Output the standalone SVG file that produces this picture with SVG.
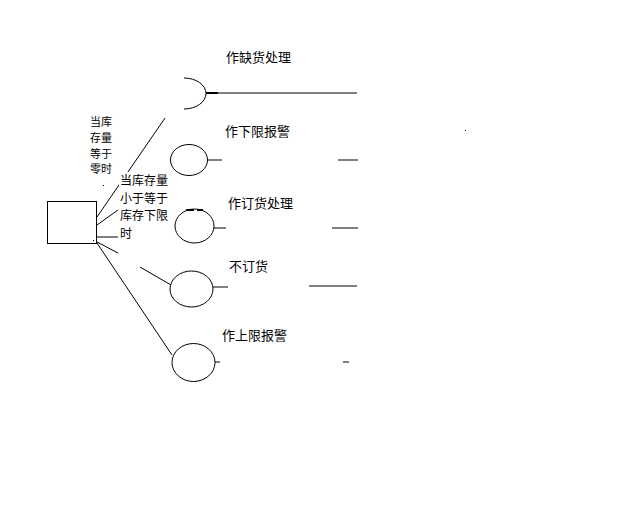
<svg xmlns="http://www.w3.org/2000/svg" width="640" height="512" viewBox="0 0 640 512">
<style>
.s{fill:none;stroke:#000;stroke-width:1}
.t{font-family:"Noto Sans CJK SC","Noto Sans",sans-serif;font-size:13px;fill:#000}
.ts{font-family:"Noto Sans CJK SC","Noto Sans",sans-serif;font-size:11px;fill:#000}
.tm{font-family:"Noto Sans CJK SC","Noto Sans",sans-serif;font-size:12px;fill:#000}
</style>
<rect width="640" height="512" fill="#fff"/>
<g id="connectors">
<line class="s" x1="97" y1="217" x2="165" y2="118"/>
<line class="s" x1="97" y1="225" x2="118" y2="210"/>
<line class="s" x1="97" y1="237" x2="118" y2="237"/>
<line class="s" x1="97" y1="242" x2="118" y2="253"/>
<line class="s" x1="140" y1="267" x2="171" y2="285"/>
<line class="s" x1="97" y1="243" x2="172" y2="355"/>
<line class="s" x1="206" y1="93" x2="357" y2="93"/>
<line x1="206" y1="93" x2="218" y2="93" stroke="#000" stroke-width="2"/>
<line class="s" x1="207" y1="160" x2="222" y2="160"/>
<line class="s" x1="338" y1="160" x2="358" y2="160"/>
<line class="s" x1="214" y1="228" x2="226" y2="228"/>
<line class="s" x1="332" y1="228" x2="358" y2="228"/>
<line class="s" x1="213" y1="287" x2="228" y2="287"/>
<line class="s" x1="309" y1="286" x2="357" y2="286"/>
<line class="s" x1="215" y1="362" x2="220" y2="362"/>
<line class="s" x1="343" y1="362" x2="349" y2="362"/>
</g>
<g id="source">
<rect class="s" x="47.5" y="201.5" width="49" height="42"/>
</g>
<g id="labelLeft">
<text class="ts" x="90" y="126">当库</text>
<text class="ts" x="90" y="142">存量</text>
<text class="ts" x="90" y="158">等于</text>
<text class="ts" x="90" y="173">零时</text>
</g>
<g id="labelRight">
<rect x="119" y="172" width="52" height="68" fill="#fff"/>
<text class="tm" x="120" y="185">当库存量</text>
<text class="tm" x="120" y="202.5">小于等于</text>
<text class="tm" x="120" y="220">库存下限</text>
<text class="tm" x="120" y="237.5">时</text>
</g>
<g id="n1">
<path class="s" d="M184,78 A22,15.5 0 0 1 184,109"/>
<text class="t" x="226" y="62">作缺货处理</text>
</g>
<g id="n2">
<ellipse class="s" cx="189" cy="160" rx="18.5" ry="15.5"/>
<text class="t" x="225" y="136">作下限报警</text>
</g>
<g id="n3">
<ellipse class="s" cx="194.5" cy="226" rx="19.5" ry="17"/>
<line x1="186" y1="210" x2="194" y2="210" stroke="#000" stroke-width="2"/>
<line x1="197" y1="210" x2="203" y2="210" stroke="#000" stroke-width="2"/>
<text class="t" x="228" y="208">作订货处理</text>
</g>
<g id="n4">
<ellipse class="s" cx="191.5" cy="289" rx="21.5" ry="18"/>
<text class="t" x="229" y="271">不订货</text>
</g>
<g id="n5">
<ellipse class="s" cx="193.5" cy="362.5" rx="21.5" ry="19"/>
<text class="t" x="222" y="340">作上限报警</text>
</g>
<rect x="103" y="185" width="1" height="1" fill="#000"/>
<rect x="93" y="240" width="1" height="1" fill="#000"/>
<rect x="465" y="130" width="1" height="1" fill="#000"/>
</svg>
